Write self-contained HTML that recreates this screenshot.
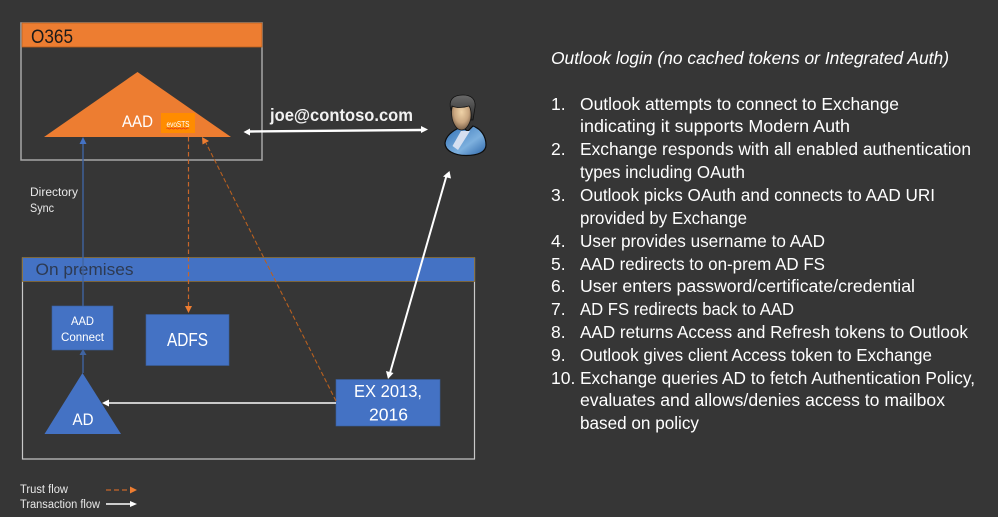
<!DOCTYPE html>
<html>
<head>
<meta charset="utf-8">
<style>
html,body{margin:0;padding:0;background:#363636;width:998px;height:517px;overflow:hidden}
svg{display:block}
text{font-family:"Liberation Sans",sans-serif}
.r{fill:#fff;font-size:17.5px}
</style>
</head>
<body>
<svg width="998" height="517" viewBox="0 0 998 517" xmlns="http://www.w3.org/2000/svg">
<rect width="998" height="517" fill="#363636"/>
<defs>
<linearGradient id="body" x1="0" y1="0" x2="1" y2="1"><stop offset="0" stop-color="#2f6fb5"/><stop offset="0.6" stop-color="#7db0de"/><stop offset="1" stop-color="#2a64a8"/></linearGradient>
<radialGradient id="face" cx="0.5" cy="0.4" r="0.6"><stop offset="0" stop-color="#efd3a8"/><stop offset="0.6" stop-color="#c9a680"/><stop offset="1" stop-color="#7a6048"/></radialGradient>
<linearGradient id="hair" x1="0" y1="0" x2="0" y2="1"><stop offset="0" stop-color="#6a6a6a"/><stop offset="1" stop-color="#2a2a2a"/></linearGradient>
</defs>

<!-- O365 -->
<rect x="21" y="23" width="241" height="137" fill="none" stroke="#a6a6a6" stroke-width="1.5"/>
<rect x="22" y="23" width="240" height="24" fill="#ed7d31" stroke="#b9601f" stroke-width="0.8"/>
<text x="31" y="43" font-size="19" fill="#1a1a1a" textLength="42" lengthAdjust="spacingAndGlyphs">O365</text>
<polygon points="137.500,72 231,137 44,137" fill="#ed7d31"/>
<text x="122" y="127" font-size="16.500" fill="#fff" textLength="31" lengthAdjust="spacingAndGlyphs">AAD</text>
<rect x="161" y="113" width="34" height="20" fill="#ff8c00"/>
<text x="166.500" y="127" font-size="8" fill="#fff" textLength="23" lengthAdjust="spacingAndGlyphs">evoSTS</text>
<path d="M166.500 128.500q1-1 2 0t2 0 2 0 2 0 2 0 2 0 2 0 2 0 2 0 2 0 2 0" fill="none" stroke="#e0301e" stroke-width="0.7"/>

<!-- On premises -->
<rect x="22.500" y="258" width="452" height="201" fill="none" stroke="#c9c9c9" stroke-width="1.2"/>
<rect x="22.500" y="257.500" width="452" height="24" fill="#4472c4" stroke="#8a6a2a" stroke-width="0.8"/>
<text x="35.500" y="275" font-size="17" fill="#2d3a52" textLength="98" lengthAdjust="spacingAndGlyphs">On premises</text>

<!-- Directory sync connector -->
<line x1="83" y1="306" x2="83" y2="144" stroke="#3f63a0" stroke-width="1.4"/>
<polygon points="83,137 86.500,144 79.500,144" fill="#4472c4"/>
<text x="30" y="196" font-size="11.500" fill="#e8e8e8" textLength="48" lengthAdjust="spacingAndGlyphs">Directory</text>
<text x="30" y="212" font-size="11.500" fill="#e8e8e8" textLength="24" lengthAdjust="spacingAndGlyphs">Sync</text>

<!-- AAD Connect -->
<rect x="52" y="306" width="61" height="44" fill="#4472c4" stroke="#3a5f9f" stroke-width="0.6"/>
<text x="71" y="325" font-size="12" fill="#fff" textLength="23" lengthAdjust="spacingAndGlyphs">AAD</text>
<text x="61" y="341" font-size="12" fill="#fff" textLength="43" lengthAdjust="spacingAndGlyphs">Connect</text>

<!-- ADFS -->
<rect x="146" y="314.500" width="83" height="51" fill="#4472c4" stroke="#3a5f9f" stroke-width="0.6"/>
<text x="167" y="346" font-size="18" fill="#fff" textLength="41" lengthAdjust="spacingAndGlyphs">ADFS</text>

<!-- AD -->
<polygon points="82.500,373 121,434 44.500,434" fill="#4472c4"/>
<line x1="83" y1="373" x2="83" y2="355" stroke="#3f63a0" stroke-width="1.4"/>
<polygon points="83,349 86.500,355 79.500,355" fill="#3f63a0"/>
<text x="72.500" y="425" font-size="16.500" fill="#fff" textLength="21" lengthAdjust="spacingAndGlyphs">AD</text>

<!-- EX -->
<rect x="336" y="379.500" width="104" height="46.500" fill="#4472c4" stroke="#3a5f9f" stroke-width="0.6"/>
<text x="354" y="397" font-size="17.500" fill="#fff" textLength="68" lengthAdjust="spacingAndGlyphs">EX 2013,</text>
<text x="369" y="420.500" font-size="17.500" fill="#fff" textLength="39" lengthAdjust="spacingAndGlyphs">2016</text>

<!-- Trust flows -->
<line x1="188.500" y1="137" x2="188.500" y2="306" stroke="#c8662a" stroke-width="1.2" stroke-dasharray="4.500 3"/>
<polygon points="188.500,313 185,306 192,306" fill="#ed7d31"/>
<line x1="336" y1="401" x2="206" y2="143" stroke="#b9601f" stroke-width="1.1" stroke-dasharray="4.500 2.500"/>
<polygon points="202,137 209,141 202.500,144.500" fill="#ed7d31"/>

<!-- Transaction flows -->
<line x1="336" y1="403" x2="108" y2="403" stroke="#e0e0e0" stroke-width="1.8"/>
<polygon points="102,403 109,399.500 109,406.500" fill="#fff"/>
<line x1="250" y1="131.500" x2="422" y2="130" stroke="#fff" stroke-width="2.400"/>
<polygon points="243.500,132 250,128.500 250,135.500" fill="#fff"/>
<polygon points="428,129.500 421,126 421,133" fill="#fff"/>
<line x1="390" y1="373" x2="447" y2="174" stroke="#fff" stroke-width="2"/>
<polygon points="388,379 386,371 393.500,373" fill="#fff"/>
<polygon points="449.500,171 443,176.500 451,178.500" fill="#fff"/>

<text x="270" y="121" font-size="17.500" font-weight="bold" fill="#f2f2f2" textLength="143" lengthAdjust="spacingAndGlyphs">joe@contoso.com</text>

<!-- User icon -->
<path d="M445 143C446 135 454 130 461 127L468 131L473 126C481 129 486 136 486 145C486 152 478 155.500 466 155.500C455 155.500 445 151 445 143Z" fill="url(#body)" stroke="#0c0c0c" stroke-width="1.200"/>
<path d="M461 131L470 131L458 150L452.500 146Z" fill="#d5dff0"/>
<path d="M451.500 112C451.500 104 456 100 462 100C468 100 471.500 104 471.500 112C471.500 122 467 130 461.500 130C456 130 451.500 122 451.500 112Z" fill="url(#face)" stroke="#1a1a1a" stroke-width="0.8"/>
<path d="M451 110C448 100 453 95 463 95C471 95 476 99 475 107L473 120L471 120C471.500 112 470.500 108 469 106C463 108 456 108 452 106Z" fill="url(#hair)" stroke="#111" stroke-width="0.8"/>

<!-- Legend -->
<text x="20" y="493" font-size="11.500" fill="#e8e8e8" textLength="48" lengthAdjust="spacingAndGlyphs">Trust flow</text>
<text x="20" y="508" font-size="11.500" fill="#e8e8e8" textLength="80" lengthAdjust="spacingAndGlyphs">Transaction flow</text>
<line x1="106" y1="490" x2="131" y2="490" stroke="#c8662a" stroke-width="1.3" stroke-dasharray="5 3"/>
<polygon points="137,490 130,486.500 130,493.500" fill="#ed7d31"/>
<line x1="106" y1="504" x2="131" y2="504" stroke="#fff" stroke-width="1.4"/>
<polygon points="137,504 130,501 130,507" fill="#fff"/>

<!-- Right panel -->
<text x="551" y="64" font-size="17.500" font-style="italic" fill="#fff" textLength="398" lengthAdjust="spacingAndGlyphs">Outlook login (no cached tokens or Integrated Auth)</text>

<text class="r" x="551" y="110">1.</text>
<text class="r" x="580" y="110" textLength="319" lengthAdjust="spacingAndGlyphs">Outlook attempts to connect to Exchange</text>
<text class="r" x="580" y="132" textLength="270" lengthAdjust="spacingAndGlyphs">indicating it supports Modern Auth</text>
<text class="r" x="551" y="155">2.</text>
<text class="r" x="580" y="155" textLength="391" lengthAdjust="spacingAndGlyphs">Exchange responds with all enabled authentication</text>
<text class="r" x="580" y="178" textLength="165" lengthAdjust="spacingAndGlyphs">types including OAuth</text>
<text class="r" x="551" y="201">3.</text>
<text class="r" x="580" y="201" textLength="355" lengthAdjust="spacingAndGlyphs">Outlook picks OAuth and connects to AAD URI</text>
<text class="r" x="580" y="224" textLength="167" lengthAdjust="spacingAndGlyphs">provided by Exchange</text>
<text class="r" x="551" y="247">4.</text>
<text class="r" x="580" y="247" textLength="245" lengthAdjust="spacingAndGlyphs">User provides username to AAD</text>
<text class="r" x="551" y="270">5.</text>
<text class="r" x="580" y="270" textLength="245" lengthAdjust="spacingAndGlyphs">AAD redirects to on-prem AD FS</text>
<text class="r" x="551" y="292">6.</text>
<text class="r" x="580" y="292" textLength="335" lengthAdjust="spacingAndGlyphs">User enters password/certificate/credential</text>
<text class="r" x="551" y="315">7.</text>
<text class="r" x="580" y="315" textLength="214" lengthAdjust="spacingAndGlyphs">AD FS redirects back to AAD</text>
<text class="r" x="551" y="338">8.</text>
<text class="r" x="580" y="338" textLength="388" lengthAdjust="spacingAndGlyphs">AAD returns Access and Refresh tokens to Outlook</text>
<text class="r" x="551" y="361">9.</text>
<text class="r" x="580" y="361" textLength="352" lengthAdjust="spacingAndGlyphs">Outlook gives client Access token to Exchange</text>
<text class="r" x="551" y="384">10.</text>
<text class="r" x="580" y="384" textLength="395" lengthAdjust="spacingAndGlyphs">Exchange queries AD to fetch Authentication Policy,</text>
<text class="r" x="580" y="406" textLength="365" lengthAdjust="spacingAndGlyphs">evaluates and allows/denies access to mailbox</text>
<text class="r" x="580" y="429" textLength="119" lengthAdjust="spacingAndGlyphs">based on policy</text>
</svg>
</body>
</html>
